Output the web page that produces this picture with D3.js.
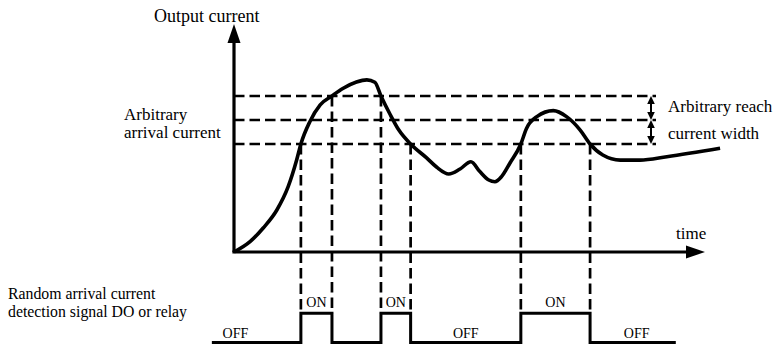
<!DOCTYPE html>
<html>
<head>
<meta charset="utf-8">
<script src="https://cdn.jsdelivr.net/npm/d3@7/dist/d3.min.js"></script>
<style>
  html, body { margin: 0; padding: 0; background: #fff; }
  svg { display: block; }
</style>
</head>
<body>
<svg id="chart" width="775" height="344"></svg>
<script>
// Output current over time (arbitrary units)
const curveTime    = [0, 3.4, 6.2, 9.1, 11.5, 13.3, 14.2, 16.1, 18.3, 20.8, 23.1, 26.0, 28.2, 29.9, 31.2, 33.1, 35.0, 37.5,
                      40.9, 43.0, 45.6, 48.0, 50.3, 52.2, 54.1, 55.4, 56.8, 58.6, 60.9, 62.1, 64.3, 67.8, 70.6, 73.5, 75.6,
                      78.3, 82.0, 86.2, 91.9, 103.2];
const curveCurrent = [0, 0.43, 1.0, 1.75, 2.72, 3.83, 4.5, 5.43, 6.13, 6.5, 6.81, 7.08, 7.17, 7.07, 6.5, 5.75, 5.08, 4.5,
                      3.92, 3.54, 3.25, 3.46, 3.76, 3.35, 3.0, 2.93, 3.14, 3.71, 4.5, 5.15, 5.64, 5.89, 5.64, 5.08, 4.5,
                      4.04, 3.83, 3.83, 3.97, 4.32];

// Arrival current band: lower edge, set point, upper edge
const thresholds = [4.5, 5.5, 6.5];

// Moments where the output enters / leaves the band
const crossTimes  = [14.2, 20.8, 31.2, 37.5, 60.9, 75.6];
const crossLevels = [4.5, 6.5, 6.5, 4.5, 4.5, 4.5];

// Detection signal DO / relay (0 = OFF, 1 = ON)
const signalTimes  = [-4.7, 14.2, 20.8, 31.2, 37.5, 60.9, 75.6, 93.8];
const signalStates = [0, 1, 0, 1, 0, 1, 0, 0];

// State labels along the signal trace
const stateLabelTimes  = [0.3, 17.5, 34.35, 49.2, 68.25, 85.5];
const stateLabelTexts  = ["OFF", "ON", "ON", "OFF", "ON", "OFF"];
const stateLabelLevels = [0, 1, 1, 0, 1, 0];

const FONT = "'Liberation Serif', 'Times New Roman', Times, 'DejaVu Serif', serif";

const svg = d3.select("#chart");

const x = d3.scaleLinear().domain([0, 100]).range([234, 705]);
const y = d3.scaleLinear().domain([0, 9.5]).range([252, 24]);
const ySig = d3.scaleLinear().domain([0, 1]).range([342.5, 313.3]);

const bandRight = 656;
const dashStyle = "10.5,5";

// Horizontal band lines
svg.append("g").selectAll("line").data(thresholds).join("line")
  .attr("x1", x(0)).attr("x2", bandRight)
  .attr("y1", d => y(d)).attr("y2", d => y(d))
  .attr("stroke", "#000").attr("stroke-width", 2.7)
  .attr("stroke-dasharray", dashStyle);

// Vertical drop lines from band crossings to the signal
svg.append("g").selectAll("line").data(crossTimes).join("line")
  .attr("x1", d => x(d)).attr("x2", d => x(d))
  .attr("y1", (d, i) => y(crossLevels[i])).attr("y2", ySig(1))
  .attr("stroke", "#000").attr("stroke-width", 2.7)
  .attr("stroke-dasharray", dashStyle);

// Axes with arrowheads
const axisW = 3.2;
svg.append("line")
  .attr("x1", x(0)).attr("y1", y(0)).attr("x2", x(0)).attr("y2", y(9.5) + 17)
  .attr("stroke", "#000").attr("stroke-width", axisW);
svg.append("path")
  .attr("d", `M${x(0)},${y(9.5)} L${x(0) - 6.5},${y(9.5) + 19} L${x(0) + 6.5},${y(9.5) + 19} Z`)
  .attr("fill", "#000");
svg.append("line")
  .attr("x1", x(0) - 1.6).attr("y1", y(0)).attr("x2", x(100) - 17).attr("y2", y(0))
  .attr("stroke", "#000").attr("stroke-width", axisW);
svg.append("path")
  .attr("d", `M${x(100)},${y(0)} L${x(100) - 19},${y(0) - 6.5} L${x(100) - 19},${y(0) + 6.5} Z`)
  .attr("fill", "#000");

// Output current curve
const line = d3.line()
  .x((d, i) => x(curveTime[i]))
  .y((d, i) => y(curveCurrent[i]))
  .curve(d3.curveMonotoneX);
svg.append("path")
  .attr("d", line(curveTime))
  .attr("fill", "none").attr("stroke", "#000")
  .attr("stroke-width", 3.6).attr("stroke-linejoin", "round").attr("stroke-linecap", "butt");

// Detection signal trace
const sigLine = d3.line()
  .x((d, i) => x(signalTimes[i]))
  .y((d, i) => ySig(signalStates[i]))
  .curve(d3.curveStepAfter);
svg.append("path")
  .attr("d", sigLine(signalTimes))
  .attr("fill", "none").attr("stroke", "#000")
  .attr("stroke-width", 3).attr("stroke-linejoin", "miter");

// Band width double arrows
const arrowX = 651;
function doubleArrow(v0, v1) {
  const ya = y(v0), yb = y(v1);
  const g = svg.append("g");
  g.append("line").attr("x1", arrowX).attr("x2", arrowX)
    .attr("y1", ya - 6).attr("y2", yb + 6)
    .attr("stroke", "#000").attr("stroke-width", 2);
  g.append("path").attr("d", `M${arrowX},${ya} L${arrowX - 3.8},${ya - 8} L${arrowX + 3.8},${ya - 8} Z`).attr("fill", "#000");
  g.append("path").attr("d", `M${arrowX},${yb} L${arrowX - 3.8},${yb + 8} L${arrowX + 3.8},${yb + 8} Z`).attr("fill", "#000");
}
doubleArrow(thresholds[0], thresholds[1]);
doubleArrow(thresholds[1], thresholds[2]);

// Text labels
function label(tx, ty, size, str) {
  svg.append("text")
    .attr("x", tx).attr("y", ty)
    .attr("font-family", FONT).attr("font-size", size)
    .attr("fill", "#000")
    .text(str);
}
label(154, 22, 18, "Output current");
label(124, 120, 17, "Arbitrary");
label(124, 138, 17, "arrival current");
label(668, 112, 17, "Arbitrary reach");
label(668, 139, 17, "current width");
label(676, 239, 17, "time");
label(8, 299, 15.8, "Random arrival current");
label(8, 317, 15.8, "detection signal DO or relay");

svg.append("g").selectAll("text").data(stateLabelTimes).join("text")
  .attr("x", d => x(d))
  .attr("y", (d, i) => stateLabelLevels[i] ? ySig(1) - 6.5 : ySig(0) - 4.5)
  .attr("text-anchor", "middle")
  .attr("font-family", FONT).attr("font-size", 14).attr("fill", "#000")
  .text((d, i) => stateLabelTexts[i]);
</script>
</body>
</html>
